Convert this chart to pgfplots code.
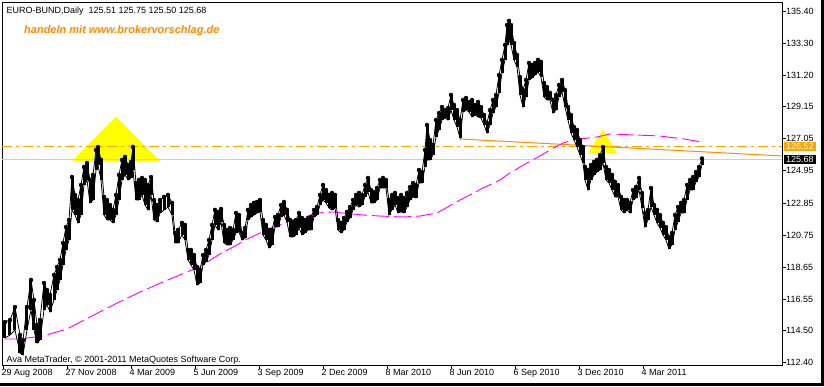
\documentclass[border=0pt]{standalone}
\usepackage{fontspec}
\setmainfont{Liberation Sans}
\usepackage{pgfplots}
\usepackage{pgfplotstable}
\pgfplotsset{compat=1.18}
\definecolor{mag}{RGB}{255,0,255}
\definecolor{dorange}{RGB}{255,140,0}
\definecolor{lorange}{RGB}{255,165,0}
\definecolor{lgray}{RGB}{205,205,215}
\definecolor{tri}{RGB}{255,255,0}
\pgfplotstableread{
x hi lo
5 115.06 114.01
10 115.19 114.21
15 116.04 114.54
20 114.21 113.03
23 113.88 112.90
27 116.04 114.54
31 117.81 115.85
34 116.50 114.54
37 114.87 113.69
40 115.19 113.88
44 117.61 115.85
47 117.15 116.17
50 116.83 115.72
54 118.14 116.50
57 118.66 117.15
60 119.12 117.81
63 120.23 118.79
66 121.27 119.77
69 121.73 120.42
72 124.54 122.39
75 123.37 122.06
78 123.04 121.54
81 124.02 122.06
84 125.20 124.02
87 125.46 124.35
90 124.35 122.85
93 124.68 123.04
96 126.31 125.00
98 126.50 125.33
101 125.66 124.35
104 123.24 122.06
107 123.04 121.73
110 122.71 121.73
113 122.39 121.54
116 123.37 122.06
119 124.68 123.04
122 125.66 124.35
125 125.86 124.68
128 125.33 124.35
131 125.53 124.48
133 126.50 125.00
136 124.15 123.04
139 124.35 123.04
142 124.48 123.37
145 124.35 122.71
148 124.02 122.39
151 124.54 123.37
154 123.04 121.73
157 122.71 121.60
160 123.04 122.19
164 123.24 122.39
168 123.37 122.58
172 122.85 122.06
175 120.88 120.23
178 121.08 120.23
182 121.54 120.75
185 121.41 120.42
188 119.77 119.12
191 119.77 118.79
194 119.44 118.46
197 118.66 117.48
200 118.46 117.61
203 119.44 118.79
206 119.77 118.99
209 120.42 119.44
212 121.41 120.42
215 122.39 121.41
218 122.26 121.08
221 122.45 121.60
224 121.41 120.23
227 121.08 120.10
230 121.21 120.10
233 121.08 120.42
236 122.19 120.88
239 122.06 120.95
242 120.88 120.42
245 121.21 120.55
248 122.39 121.73
251 122.71 121.93
254 122.85 122.06
257 122.91 122.19
260 123.04 122.26
263 121.73 120.75
266 121.41 120.42
269 121.08 119.90
272 121.08 120.10
275 121.93 121.27
278 122.06 121.27
281 122.71 121.93
284 122.91 122.06
287 122.39 121.60
290 121.73 120.62
293 121.60 120.62
296 121.73 120.75
299 122.19 121.21
302 121.86 120.75
305 121.73 120.88
308 121.86 121.08
311 121.93 121.08
314 122.39 121.93
317 122.58 122.06
320 123.37 122.71
323 124.02 123.04
326 123.69 122.85
329 123.37 122.52
332 123.50 122.39
335 123.37 122.52
338 121.73 121.08
341 121.54 120.88
344 121.86 121.08
347 122.26 121.60
350 122.58 121.86
353 123.04 122.39
356 123.37 122.71
359 123.50 122.58
362 123.37 122.71
365 124.02 123.24
368 124.48 123.56
371 123.69 122.85
374 123.56 122.85
377 123.82 123.04
380 124.35 123.82
383 124.48 123.82
386 124.35 123.82
389 123.04 122.06
392 123.37 122.39
395 123.50 122.71
398 123.17 122.19
401 123.37 122.26
404 123.17 122.19
407 123.50 122.58
410 123.89 123.04
413 124.15 123.24
416 124.02 123.17
419 125.00 124.15
422 124.87 124.15
425 126.31 125.20
427 127.94 125.66
430 126.96 125.66
433 126.64 125.98
436 128.27 127.16
439 128.72 127.62
442 129.12 128.27
445 128.92 128.40
448 129.05 128.27
451 129.91 128.92
454 129.25 128.27
457 128.92 127.81
460 128.27 127.09
463 129.58 128.79
466 129.71 128.92
469 129.45 128.79
472 129.58 128.47
475 129.25 128.60
478 129.45 128.47
481 129.12 128.40
484 128.60 127.94
487 128.07 127.42
490 128.92 127.94
493 129.58 128.72
496 129.91 129.12
499 131.21 130.04
502 132.20 131.35
505 133.18 132.20
507 134.48 133.18
509 134.75 133.50
511 134.48 133.18
514 133.31 132.20
517 132.52 131.74
520 131.08 129.91
523 130.23 129.12
526 130.89 129.78
529 132.00 130.89
532 131.87 131.02
535 132.00 131.21
538 132.20 131.41
541 132.07 131.08
544 130.69 129.78
547 130.43 129.58
550 130.04 129.58
553 129.58 128.72
556 129.91 128.92
559 130.56 129.78
562 130.89 130.10
565 130.23 129.12
568 129.12 128.27
571 128.60 127.42
574 127.81 126.96
577 127.62 126.50
580 126.96 125.98
583 126.50 125.46
585 125.20 124.35
588 125.00 123.69
591 125.33 124.35
594 125.53 124.68
597 125.66 124.87
600 125.98 125.00
603 126.50 125.46
606 125.20 124.35
609 125.00 124.15
612 124.68 123.69
615 124.22 123.24
618 124.02 123.24
621 123.24 122.39
624 123.04 122.19
627 123.04 122.39
630 122.85 122.19
633 123.69 123.04
636 123.89 123.17
639 124.48 123.69
642 123.50 122.52
645 122.19 121.27
648 122.39 121.73
651 123.82 122.58
654 122.71 122.06
657 122.39 121.54
660 122.06 121.21
663 121.54 120.75
666 121.27 120.42
669 120.62 119.84
672 120.88 120.10
675 122.06 121.08
678 122.58 121.60
681 122.85 122.19
684 123.04 122.19
687 124.02 123.04
690 124.35 123.69
693 124.54 123.69
696 124.87 124.22
699 125.20 124.54
702 125.75 125.33
}\bund
\pgfplotstableread{
x ma
4 113.95
22 113.95
27 114.01
43 114.15
67 114.60
90 115.39
117 116.30
140 117.02
163 117.68
187 118.33
200 118.66
212 119.18
220 119.51
237 120.10
243 120.36
260 120.88
268 121.14
285 121.54
292 121.73
308 121.99
317 122.19
333 122.26
342 122.19
363 122.06
380 121.99
403 121.93
420 121.99
437 122.19
460 123.04
483 123.82
500 124.35
510 124.81
527 125.46
533 125.66
550 126.31
563 126.77
573 126.96
580 127.03
597 127.16
610 127.36
636 127.29
659 127.23
684 127.03
702 126.83
}\matab
\begin{document}
\begin{tikzpicture}
\fill[white] (0pt,0pt) rectangle (824pt,386pt);
\begin{axis}[
  at={(2pt,21pt)}, anchor=south west, scale only axis,
  width=780pt, height=363pt,
  xmin=2, xmax=782, ymin=112.249, ymax=135.989,
  axis line style={black, line width=0.8pt},
  tick style={black, line width=0.8pt},
  major tick length=4pt, tick align=outside,
  xtick pos=bottom, ytick pos=right, yticklabel pos=right,
  xtick={3,67,131,195,259,323,387,451,515,579,643},
  xticklabels={29 Aug 2008,27 Nov 2008,4 Mar 2009,5 Jun 2009,3 Sep 2009,2 Dec 2009,8 Mar 2010,8 Jun 2010,6 Sep 2010,3 Dec 2010,4 Mar 2011},
  ytick={112.40,114.50,116.55,118.65,120.75,122.85,124.95,127.05,129.15,131.20,133.30,135.40},
  yticklabels={112.40,114.50,116.55,118.65,120.75,122.85,124.95,127.05,129.15,131.20,133.30,135.40},
  ticklabel style={font=\fontsize{9}{10}\selectfont},
  xticklabel style={anchor=north west, inner sep=0pt, xshift=-1.5pt},
  yticklabel style={anchor=west, inner sep=0pt},
]
\addplot[fill=tri, draw=none] coordinates {(72,125.59) (116,128.49) (160,125.59)} -- cycle;
\addplot[fill=tri, draw=none] coordinates {(588,126.09) (603,127.66) (617,126.09)} -- cycle;
\addplot[lgray, line width=0.8pt] coordinates {(2,125.68) (782,125.68)};
\addplot[lorange, line width=0.8pt, dash pattern=on 10pt off 4pt on 3pt off 4pt] coordinates {(2,126.52) (782,126.52)};
\addplot[dorange, line width=1pt] coordinates {(460,127.03) (782,125.92)};
\addplot[mag, line width=0.9pt, dash pattern=on 17pt off 5pt] table[x=x,y=ma]{\matab};
\addplot[black, line width=0.8pt] table[x=x,y=hi]{\bund};
\addplot[black, line width=0.8pt] table[x=x,y=lo]{\bund};
\addplot[black, only marks, mark=none, error bars/.cd, y dir=minus, y explicit, error mark=none,
  error bar style={draw=black, solid, line width=3pt}]
  table[x=x, y=hi, y error expr=\thisrow{hi}-\thisrow{lo}]{\bund};
\coordinate (L1) at (axis cs:782,126.52);
\coordinate (L2) at (axis cs:782,125.68);
\end{axis}
\node[fill=lorange, text=white, anchor=west, inner xsep=2pt, inner ysep=1pt, minimum height=9pt, font=\fontsize{9}{10}\selectfont] at ([xshift=2pt]L1) {126.52};
\node[fill=black, text=white, anchor=west, inner xsep=2pt, inner ysep=1pt, minimum height=9pt, font=\fontsize{9}{10}\selectfont] at ([xshift=2pt]L2) {125.68};
\node[anchor=base west, inner sep=0pt, font=\fontsize{9}{10}\selectfont] at (6.5pt,372.7pt) {EURO-BUND,Daily\ \ 125.51 125.75 125.50 125.68};
\node[anchor=base west, inner sep=0pt, text=dorange, font=\fontsize{11}{12}\selectfont\bfseries\itshape] at (24pt,352pt) {handeln mit www.brokervorschlag.de};
\node[anchor=base west, inner sep=0pt, font=\fontsize{9}{10}\selectfont] at (6.5pt,23.5pt) {Ava MetaTrader, © 2001-2011 MetaQuotes Software Corp.};
\fill[black] (821pt,0pt) rectangle (824pt,386pt);
\fill[black] (0pt,0pt) rectangle (824pt,3.5pt);
\end{tikzpicture}
\end{document}
